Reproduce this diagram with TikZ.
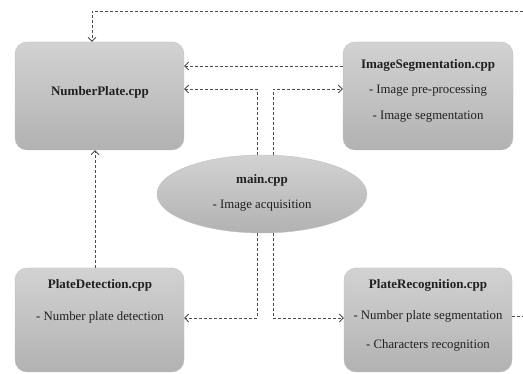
\documentclass[tikz,border=0pt]{standalone}
\usepackage{fontspec}
\setmainfont{Liberation Serif}
\usetikzlibrary{arrows.meta,shapes.geometric}
\definecolor{boxtop}{HTML}{D2D2D2}
\definecolor{boxbot}{HTML}{B2B2B2}
\definecolor{linkgray}{HTML}{4C4C4C}
\definecolor{txtgray}{HTML}{202020}

\begin{document}
\begin{tikzpicture}[x=1pt,y=-1pt,
	module/.style={rectangle, rounded corners=12pt, top color=boxtop, bottom color=boxbot, draw=gray!50, line width=0.4pt, inner sep=0pt},
	title/.style={font=\fontsize{13}{15}\selectfont\bfseries, text=txtgray, inner sep=0pt},
	item/.style={font=\fontsize{12.8}{15}\selectfont, text=txtgray, inner sep=0pt},
	link/.style={dash pattern=on 3pt off 2pt, linkgray, line width=0.75pt, -{Straight Barb[length=4pt,width=8pt]}}]

	\useasboundingbox (0,0) rectangle (523,374);
	\clip (0,0) rectangle (523,374);

	% modules
	\node[module, minimum width=169pt, minimum height=108pt] (np)  at (99.5,96) {};
	\node[module, minimum width=170pt, minimum height=108pt] (seg) at (428,96) {};
	\node[module, minimum width=169pt, minimum height=104pt] (det) at (99.5,320) {};
	\node[module, minimum width=168pt, minimum height=104pt] (rec) at (428,320) {};
	\node[ellipse, top color=boxtop, bottom color=boxbot, draw=gray!50, line width=0.4pt, minimum width=210pt, minimum height=78pt] (main) at (262,194) {};

	% texts
	\node[title] (npT) at (100,92) {NumberPlate.cpp};
	\node[title] (segT) at (428,65) {ImageSegmentation.cpp};
	\node[item] (segA) at (428,91) {- Image pre-processing};
	\node[item] (segB) at (428,117) {- Image segmentation};
	\node[title] (detT) at (100,285) {PlateDetection.cpp};
	\node[item] (detA) at (100,317) {- Number plate detection};
	\node[title] (recT) at (428,285) {PlateRecognition.cpp};
	\node[item] (recA) at (428,316) {- Number plate segmentation};
	\node[item] (recB) at (428,345) {- Characters recognition};
	\node[title] (mainT) at (262,180) {main.cpp};
	\node[item] (mainA) at (262,206) {- Image acquisition};

	% links
	\draw[link] ([yshift=30pt]seg.west) -- ([yshift=30pt]np.east);
	\draw[link] ([xshift=-5pt]main.north) |- ([yshift=7pt]np.east);
	\draw[link] ([xshift=11pt]main.north) |- ([yshift=7pt]seg.west);
	\draw[link] ([xshift=-5pt]main.south) |- ([yshift=2pt]det.east);
	\draw[link] ([xshift=11pt]main.south) |- ([yshift=2pt]rec.west);
	\draw[link] ([xshift=-4.5pt]det.north) -- ([xshift=-4.5pt]np.south);
	\coordinate (loop) at (540,11);
	\draw[link] ([yshift=4pt]rec.east) -| (loop) -| ([xshift=-7.5pt]np.north);

\end{tikzpicture}
\end{document}
